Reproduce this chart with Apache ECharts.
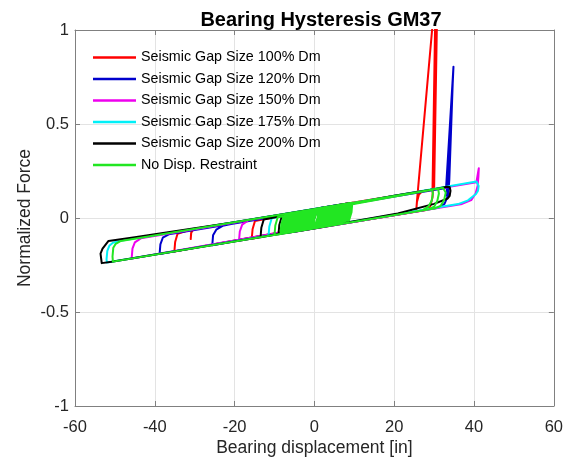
<!DOCTYPE html>
<html>
<head>
<meta charset="utf-8">
<title>Bearing Hysteresis GM37</title>
<script src="https://cdn.jsdelivr.net/npm/echarts@6/dist/echarts.min.js"></script>
<style>
  html, body { margin: 0; padding: 0; background: #ffffff; }
  #chart { width: 566px; height: 462px; }
</style>
</head>
<body>
<div id="chart"></div>
<script>
// Axis ticks
const xTicks = [-60, -40, -20, 0, 20, 40, 60];
const yTicks = [-1, -0.5, 0, 0.5, 1];

// Series names (legend order)
const seriesNames = [
  'Seismic Gap Size 100% Dm',
  'Seismic Gap Size 120% Dm',
  'Seismic Gap Size 150% Dm',
  'Seismic Gap Size 175% Dm',
  'Seismic Gap Size 200% Dm',
  'No Disp. Restraint'
];

// [displacement (in), normalized force]
const gap100 = [
  [0,0],[0.6,0.045],[2,0.055],
  [4,0.062],[3.8,0.012],[3.2,-0.032],
  [-15.7,-0.110],[-15.5,-0.060],[-14.9,-0.016],
  [3,0.059],[2.8,0.009],[2.2,-0.035],
  [-35.1,-0.178],[-34.9,-0.128],[-34.3,-0.084],
  [-30.8,-0.060],[-31.0,-0.112],[-31.1,-0.122],[-30.9,-0.080],[-30.3,-0.058],
  [30.0,0.153],[30.95,1.35],[25.7,0.090],[25.5,0.034],[25.7,0.085],[26.2,0.125],[27,0.142],
  [29.6,0.152],[30.45,1.30],[29.75,0.200],[29.6,0.110],[29.0,0.060],[28,0.043],
  [-7,-0.080],[-6.8,-0.030],[-6.2,0.014],
  [2.5,0.057],[2.3,0.007],[1.7,-0.037],
  [-3,-0.066],[-2.8,-0.016],[-2.2,0.028],[1,0.052]
];

const gap120 = [
  [0,0],[0.5,0.040],[1.5,0.053],
  [6.6,0.071],[6.4,0.021],[5.8,-0.023],
  [-25.6,-0.145],[-25.4,-0.092],[-24.6,-0.062],[-23,-0.042],[-20,-0.028],
  [8,0.076],[7.8,0.026],[7.2,-0.018],
  [-38.8,-0.191],[-38.6,-0.140],[-38.0,-0.105],[-36.5,-0.087],[-19,-0.026],
  [0,0.042],[20,0.114],[33.0,0.160],
  [34.85,0.805],[33.5,0.170],[33.1,0.120],[33.3,0.165],[34.7,0.740],[33.8,0.200],
  [33.5,0.120],[32.6,0.075],[31,0.054],
  [-5,-0.073],[-4.8,-0.023],[-4.2,0.021],
  [6.6,0.071],[6.4,0.021],[5.8,-0.023],
  [-2,-0.062],[-1.8,-0.012],[-1.2,0.032],[0.5,0.040]
];

const gap150 = [
  [0,0],[0.5,0.040],[1.5,0.053],
  [7.5,0.074],[7.3,0.024],[6.7,-0.020],
  [-18.9,-0.121],[-18.7,-0.072],[-18.1,-0.035],[-16.5,-0.012],
  [9,0.080],[8.8,0.030],[8.2,-0.014],
  [-45.8,-0.215],[-45.6,-0.163],[-45.0,-0.130],[-43.5,-0.108],
  [40.6,0.190],[41.0,0.196],[41.2,0.265],[41.1,0.220],[40.9,0.170],[40.4,0.130],[39.3,0.095],[37,0.075],
  [-6,-0.076],[-5.8,-0.026],[-5.2,0.018],
  [5,0.066],[4.8,0.016],[4.2,-0.028],
  [-2,-0.062],[-1.8,-0.012],[-1.2,0.032],[0.5,0.046]
];

const gap175 = [
  [0,0],[0.5,0.040],[1.5,0.053],
  [7.8,0.075],[7.6,0.025],[7.0,-0.018],
  [-11.5,-0.095],[-11.3,-0.045],[-10.7,-0.001],
  [20,0.119],[40.6,0.194],[41.0,0.190],[41.15,0.170],[41.0,0.145],[40.5,0.128],[39.6,0.113],[38.5,0.094],[36,0.074],
  [-52,-0.237],[-52.1,-0.220],[-51.9,-0.175],[-51.4,-0.148],[-50.5,-0.132],[-49,-0.123],
  [6.2,0.070],[6.0,0.020],[5.4,-0.024],
  [-6.5,-0.078],[-6.3,-0.028],[-5.7,0.016],
  [3.5,0.060],[3.3,0.010],[2.7,-0.034],
  [-1,-0.059],[-0.8,-0.009],[-0.2,0.035]
];

const gap200 = [
  [0,0],[0.5,0.040],[1.5,0.053],
  [9,0.080],[8.8,0.030],[8.2,-0.014],
  [-13.5,-0.102],[-13.3,-0.052],[-12.7,-0.008],
  [6,0.069],[5.8,0.019],[5.2,-0.025],
  [-9,-0.087],[-8.8,-0.037],[-8.2,0.007],
  [20,0.118],[30,0.153],[33.2,0.166],[33.9,0.165],[34.1,0.145],[33.9,0.118],[33.4,0.104],[30,0.075],[20.9,0.024],
  [0,-0.055],[-30,-0.160],[-50.8,-0.233],[-53.3,-0.240],[-53.6,-0.234],[-53.6,-0.190],[-53.1,-0.163],[-51.6,-0.122],
  [-45,-0.102],[-40,-0.086],[-30,-0.054],[-20,-0.022],
  [5.5,0.067],[5.3,0.017],[4.7,-0.027],
  [-4,-0.069],[-3.8,-0.019],[-3.2,0.025],[1,0.050]
];

const noRestraint = [
  [0,0],[0.6,0.045],[1.5,0.053],
  [3,0.059],[2.8,0.009],[2.2,-0.035],
  [-5,-0.073],[-4.8,-0.023],[-4.2,0.021],
  [6,0.069],[5.8,0.019],[5.2,-0.025],
  [-2,-0.062],[-1.8,-0.012],[-1.2,0.032],
  [8,0.076],[7.8,0.026],[7.2,-0.018],
  [-7,-0.080],[-6.8,-0.030],[-6.2,0.014],
  [1,0.052],[0.8,0.002],[0.2,-0.042],
  [-4,-0.069],[-3.8,-0.019],[-3.2,0.025],
  [9,0.080],[8.8,0.030],[8.2,-0.014],
  [-6,-0.076],[-5.8,-0.026],[-5.2,0.018],
  [4,0.062],[3.8,0.012],[3.2,-0.032],
  [-8,-0.083],[-7.8,-0.033],[-7.2,0.011],
  [7,0.073],[6.8,0.023],[6.2,-0.021],
  [-1,-0.059],[-0.8,-0.009],[-0.2,0.035],
  [5,0.066],[4.8,0.016],[4.2,-0.028],
  [-3,-0.066],[-2.8,-0.016],[-2.2,0.028],
  [32.2,0.161],[32.7,0.160],[32.9,0.135],[32.5,0.095],[31.6,0.064],[30,0.050],
  [-50.5,-0.232],[-50.6,-0.205],[-50.4,-0.158],[-49.8,-0.137],[-48.5,-0.122],
  [29.5,0.151],[29.7,0.130],[29.4,0.092],[28.6,0.062],[27,0.040],
  [-10,-0.090],[-9.8,-0.040],[-9.2,0.004],
  [31,0.157],[31.2,0.130],[30.8,0.090],[30,0.060],[28.5,0.045],
  [-8.5,-0.085],[-8.3,-0.035],[-7.7,0.009],
  [2,0.055],[1.8,0.005],[1.2,-0.039],
  [-6.5,-0.078],[-6.3,-0.028],[-5.7,0.016],
  [8.5,0.078],[8.3,0.028],[7.7,-0.016],
  [-0.5,-0.057],[-0.3,-0.007],[0.3,0.037],
  [6.5,0.071],[6.3,0.021],[5.7,-0.023],
  [-7.5,-0.081],[-7.3,-0.031],[-6.7,0.013],
  [3.5,0.060],[3.3,0.010],[2.7,-0.034],
  [-2.5,-0.064],[-2.3,-0.014],[-1.7,0.030],
  [9.5,0.081],[9.3,0.031],[8.7,-0.012],
  [-5.5,-0.074],[-5.3,-0.024],[-4.7,0.020],
  [2.5,0.057],[2.3,0.007],[1.7,-0.037],
  [-3.5,-0.067],[-3.3,-0.017],[-2.7,0.027],
  [5.5,0.067],[5.3,0.017],[4.7,-0.027],
  [-1.5,-0.060],[-1.3,-0.010],[-0.7,0.034],
  [7.5,0.074],[7.3,0.024],[6.7,-0.020],
  [-4.5,-0.071],[-4.3,-0.021],[-3.7,0.023],
  [1.5,0.053],[1.3,0.003],[0.7,-0.041],
  [-6.8,-0.079],[-6.6,-0.029],[-6.0,0.015],
  [4.5,0.064],[4.3,0.014],[3.7,-0.030],
  [-0.2,-0.056],[0,-0.006],[0.6,0.038],[2,0.052]
];

const seriesData = [gap100, gap120, gap150, gap175, gap200, noRestraint];
const seriesColors = ['#ff0000', '#0000cc', '#ee00ee', '#00f0f8', '#000000', '#22e622'];

const FONT = '"Liberation Sans", Arial, Helvetica, sans-serif';
const AXIS_COLOR = '#808080';
const TEXT_COLOR = '#262626';

const chart = echarts.init(document.getElementById('chart'), null, { renderer: 'canvas' });

const boxAxis = {
  axisLine: { show: true, onZero: false, lineStyle: { color: AXIS_COLOR, width: 1 } },
  axisTick: { show: true, inside: true, length: 5, lineStyle: { color: AXIS_COLOR } },
  axisLabel: { show: false },
  splitLine: { show: false }
};

chart.setOption({
  animation: false,
  backgroundColor: '#ffffff',
  title: {
    text: 'Bearing Hysteresis GM37',
    left: 316, textAlign: 'center',
    top: 5,
    textStyle: { fontFamily: FONT, fontSize: 20, fontWeight: 'bold', color: '#000000' }
  },
  grid: { left: 75, right: 9, top: 30, bottom: 53, containLabel: false },
  legend: {
    orient: 'vertical',
    left: 93, top: 49.5,
    padding: 0,
    icon: 'rect',
    itemWidth: 43, itemHeight: 2.5, itemGap: 5.5,
    textStyle: { fontFamily: FONT, fontSize: 14.3, color: '#000000', lineHeight: 16 },
    data: seriesNames,
    backgroundColor: 'transparent'
  },
  xAxis: [
    {
      type: 'value', position: 'bottom',
      min: xTicks[0], max: xTicks[xTicks.length - 1], interval: xTicks[1] - xTicks[0],
      name: 'Bearing displacement [in]', nameLocation: 'middle', nameGap: 33,
      nameMoveOverlap: false,
      nameTextStyle: { fontFamily: FONT, fontSize: 17.5, color: TEXT_COLOR },
      axisLine: { show: true, onZero: false, lineStyle: { color: AXIS_COLOR, width: 1 } },
      axisTick: { show: true, inside: true, length: 5, lineStyle: { color: AXIS_COLOR } },
      axisLabel: { fontFamily: FONT, fontSize: 16.5, color: TEXT_COLOR, margin: 13 },
      splitLine: { show: true, lineStyle: { color: '#e3e3e3', width: 1 } }
    },
    Object.assign({
      type: 'value', position: 'top',
      min: xTicks[0], max: xTicks[xTicks.length - 1], interval: xTicks[1] - xTicks[0]
    }, boxAxis)
  ],
  yAxis: [
    {
      type: 'value', position: 'left',
      min: yTicks[0], max: yTicks[yTicks.length - 1], interval: yTicks[1] - yTicks[0],
      name: 'Normalized Force', nameLocation: 'middle', nameGap: 41,
      nameMoveOverlap: false,
      nameTextStyle: { fontFamily: FONT, fontSize: 17.5, color: TEXT_COLOR },
      axisLine: { show: true, onZero: false, lineStyle: { color: AXIS_COLOR, width: 1 } },
      axisTick: { show: true, inside: true, length: 5, lineStyle: { color: AXIS_COLOR } },
      axisLabel: { fontFamily: FONT, fontSize: 16.5, color: TEXT_COLOR, margin: 6 },
      splitLine: { show: true, lineStyle: { color: '#e3e3e3', width: 1 } }
    },
    Object.assign({
      type: 'value', position: 'right',
      min: yTicks[0], max: yTicks[yTicks.length - 1], interval: yTicks[1] - yTicks[0]
    }, boxAxis)
  ],
  series: seriesNames.map((name, i) => ({
    name: name,
    type: 'line',
    xAxisIndex: 0,
    yAxisIndex: 0,
    data: seriesData[i],
    showSymbol: false,
    symbol: 'none',
    clip: true,
    smooth: false,
    lineStyle: { color: seriesColors[i], width: 2, join: 'round' },
    itemStyle: { color: seriesColors[i] },
    emphasis: { disabled: true }
  }))
});
</script>
</body>
</html>
